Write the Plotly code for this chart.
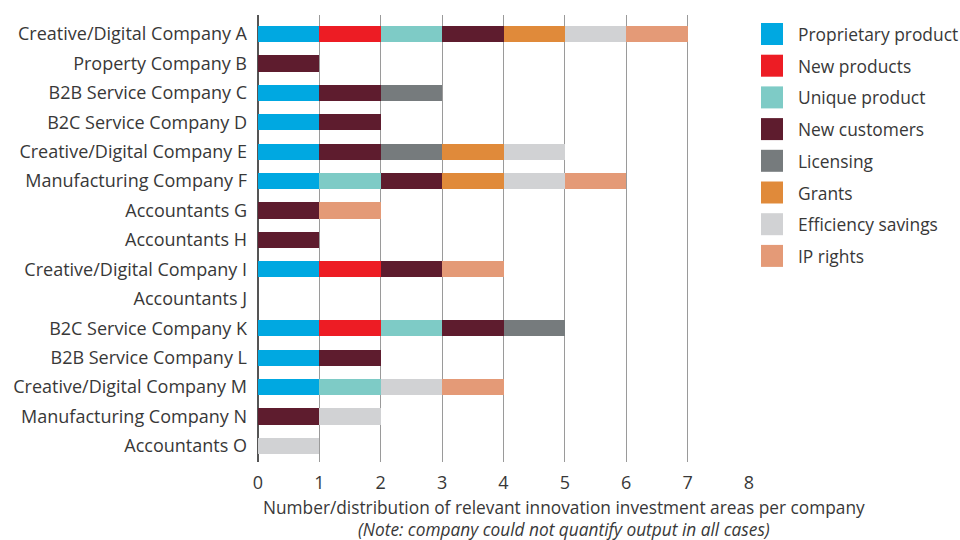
import plotly.graph_objects as go

companies = [
    "Creative/Digital Company A", "Property Company B", "B2B Service Company C",
    "B2C Service Company D", "Creative/Digital Company E", "Manufacturing Company F",
    "Accountants G", "Accountants H", "Creative/Digital Company I", "Accountants J",
    "B2C Service Company K", "B2B Service Company L", "Creative/Digital Company M",
    "Manufacturing Company N", "Accountants O",
]

series_names = ["Proprietary product", "New products", "Unique product", "New customers",
                "Licensing", "Grants", "Efficiency savings", "IP rights"]
colors = ["#00A8E1", "#ED1C24", "#7ECBC6", "#5E1C2E", "#767B7D", "#E08A3A", "#D1D2D4", "#E49A77"]

#                      A  B  C  D  E  F  G  H  I  J  K  L  M  N  O
proprietary_product = [1, 0, 1, 1, 1, 1, 0, 0, 1, 0, 1, 1, 1, 0, 0]
new_products        = [1, 0, 0, 0, 0, 0, 0, 0, 1, 0, 1, 0, 0, 0, 0]
unique_product      = [1, 0, 0, 0, 0, 1, 0, 0, 0, 0, 1, 0, 1, 0, 0]
new_customers       = [1, 1, 1, 1, 1, 1, 1, 1, 1, 0, 1, 1, 0, 1, 0]
licensing           = [0, 0, 1, 0, 1, 0, 0, 0, 0, 0, 1, 0, 0, 0, 0]
grants              = [1, 0, 0, 0, 1, 1, 0, 0, 0, 0, 0, 0, 0, 0, 0]
efficiency_savings  = [1, 0, 0, 0, 1, 1, 0, 0, 0, 0, 0, 0, 1, 1, 1]
ip_rights           = [1, 0, 0, 0, 0, 1, 1, 0, 1, 0, 0, 0, 1, 0, 0]

series_values = [proprietary_product, new_products, unique_product, new_customers,
                 licensing, grants, efficiency_savings, ip_rights]

x_ticks = [0, 1, 2, 3, 4, 5, 6, 7, 8]

FONT = "'Open Sans', Lato, sans-serif"
TXT = "#383838"

fig = go.Figure()
for name, color, vals in zip(series_names, colors, series_values):
    fig.add_trace(go.Bar(
        y=companies, x=vals, name=name, orientation="h",
        marker=dict(color=color, line=dict(width=0)),
        showlegend=False,
    ))

# Manual legend (large square swatches)
plot_left, plot_right, plot_top, plot_bottom = 258, 749, 15, 462
pw = plot_right - plot_left
ph = plot_bottom - plot_top
shapes = []
annotations = []
for i, (name, color) in enumerate(zip(series_names, colors)):
    cy = 34 + i * 31.7
    shapes.append(dict(
        type="rect", xref="paper", yref="paper",
        x0=(761 - plot_left) / pw, x1=(783 - plot_left) / pw,
        y0=(plot_bottom - (cy + 11)) / ph, y1=(plot_bottom - (cy - 11)) / ph,
        fillcolor=color, line=dict(width=0),
    ))
    annotations.append(dict(
        xref="paper", yref="paper", x=(796 - plot_left) / pw, y=(plot_bottom - cy) / ph,
        text=name, showarrow=False, xanchor="left", yanchor="middle",
        font=dict(family=FONT, size=17.4, color=TXT),
    ))

annotations.append(dict(
    xref="paper", yref="paper", x=(564 - plot_left) / pw, y=(plot_bottom - 518) / ph,
    text=("Number/distribution of relevant innovation investment areas per company"
          "<br><i>(Note: company could not quantify output in all cases)</i>"),
    showarrow=False, xanchor="center", yanchor="middle", borderpad=0,
    font=dict(family=FONT, size=17.3, color=TXT),
))

fig.update_layout(
    barmode="stack",
    bargap=0.45,
    width=960, height=540,
    margin=dict(l=plot_left, r=960 - plot_right, t=plot_top, b=540 - plot_bottom),
    plot_bgcolor="white", paper_bgcolor="white",
    font=dict(family=FONT, size=17, color=TXT),
    shapes=shapes,
    annotations=annotations,
    xaxis=dict(
        range=[0, 8], tickvals=x_ticks, ticktext=[str(t) for t in x_ticks],
        showgrid=True, gridcolor="#9a9a9a", gridwidth=1,
        zeroline=True, zerolinecolor="#555555", zerolinewidth=1.5,
        showline=False, ticks="", ticklabelstandoff=8,
        tickfont=dict(size=18, color=TXT),
    ),
    yaxis=dict(
        categoryorder="array", categoryarray=companies,
        range=[14.55, -0.65], showgrid=False, zeroline=False, showline=False,
        ticks="", ticklabelstandoff=10, tickfont=dict(size=18, color=TXT),
    ),
)

fig.write_html("out.html")
